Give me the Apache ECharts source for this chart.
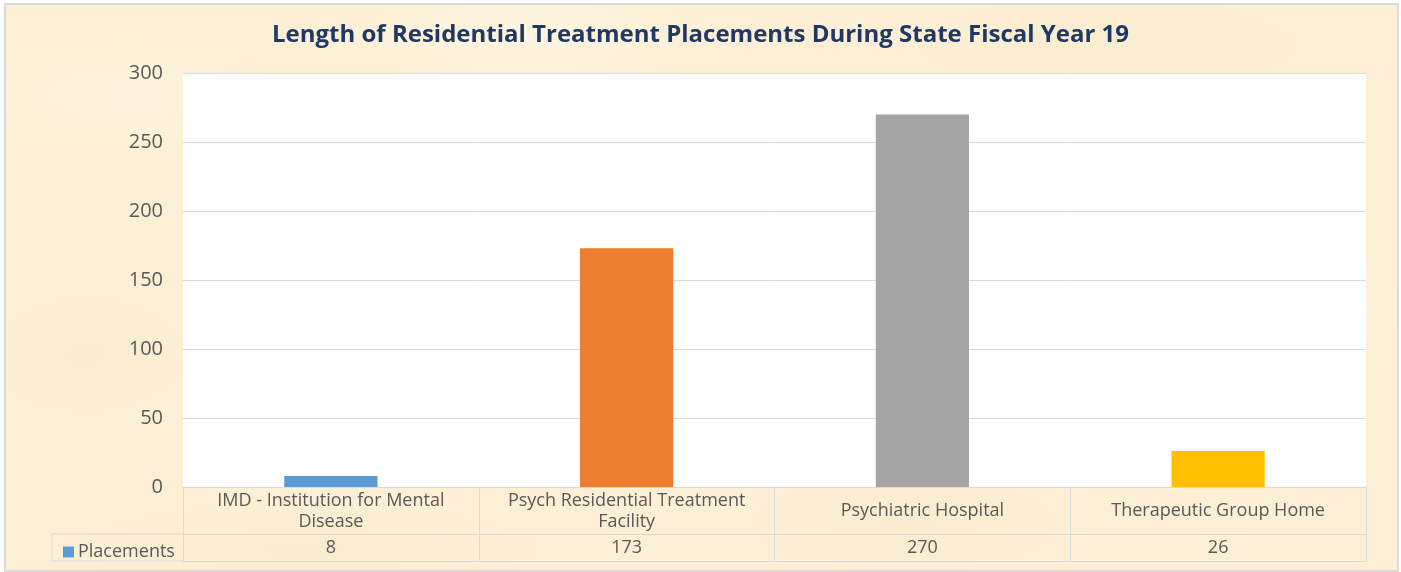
<!DOCTYPE html>
<html>
<head>
<meta charset="utf-8">
<title>Residential Treatment Placements</title>
<script src="https://cdn.jsdelivr.net/npm/echarts@6/dist/echarts.min.js"></script>
<style>
  html, body { margin: 0; padding: 0; background: #ffffff; }
  #frame {
    position: absolute; left: 4px; top: 3px; width: 1391px; height: 565px;
    border: 2px solid #d9d9d9;
    background-color: #fcefd5;
    background-image:
      radial-gradient(ellipse 180px 60px at 120px 90px, rgba(255,250,235,0.5), rgba(255,250,235,0)),
      radial-gradient(ellipse 220px 80px at 520px 30px, rgba(255,248,230,0.6), rgba(255,248,230,0)),
      radial-gradient(ellipse 160px 50px at 900px 520px, rgba(244,228,195,0.35), rgba(244,228,195,0)),
      radial-gradient(ellipse 200px 90px at 1250px 300px, rgba(255,250,235,0.5), rgba(255,250,235,0)),
      radial-gradient(ellipse 100px 60px at 80px 350px, rgba(244,226,190,0.3), rgba(244,226,190,0)),
      radial-gradient(ellipse 240px 50px at 300px 545px, rgba(244,228,195,0.35), rgba(244,228,195,0)),
      radial-gradient(ellipse 200px 50px at 1100px 40px, rgba(244,228,195,0.3), rgba(244,228,195,0));
  }
  #chart { position: absolute; left: 0; top: 0; width: 1401px; height: 572px; }
</style>
</head>
<body>
<div id="frame"></div>
<div id="chart"></div>
<script>
const TITLE = "Length of Residential Treatment Placements During State Fiscal Year 19";
const SERIES_NAME = "Placements";
const categories = [
  "IMD - Institution for Mental\nDisease",
  "Psych Residential Treatment\nFacility",
  "Psychiatric Hospital",
  "Therapeutic Group Home"
];
const placements = [8, 173, 270, 26];
const barColors = ["#5b9bd5", "#ed7d31", "#a5a5a5", "#ffc000"];
const yTicks = { min: 0, max: 300, interval: 50 };

const FONT = "'Open Sans', Lato, sans-serif";
const GRID_LINE = "#d9d9d9";
const TEXT_GRAY = "#595959";

const chart = echarts.init(document.getElementById("chart"));

chart.setOption({
  backgroundColor: "transparent",
  animation: false,
  title: {
    text: TITLE,
    left: "center",
    top: 18,
    textStyle: { color: "#1f3864", fontFamily: FONT, fontWeight: "bold", fontSize: 24 }
  },
  legend: {
    left: 58,
    top: 538,
    icon: "rect",
    itemWidth: 11,
    itemHeight: 11,
    itemGap: 6,
    data: [{ name: SERIES_NAME, itemStyle: { color: barColors[0] } }],
    textStyle: { color: TEXT_GRAY, fontFamily: FONT, fontSize: 18, padding: [0, 0, 0, -1] }
  },
  grid: {
    left: 183,
    right: 35,
    top: 73,
    bottom: 85,
    show: true,
    backgroundColor: "#ffffff",
    borderWidth: 0
  },
  xAxis: [
    {
      type: "category",
      data: categories,
      position: "bottom",
      axisLine: { lineStyle: { color: GRID_LINE } },
      axisTick: { show: true, length: 74, lineStyle: { color: GRID_LINE } },
      axisLabel: {
        color: TEXT_GRAY,
        fontFamily: FONT,
        fontSize: 18,
        lineHeight: 21,
        verticalAlign: "middle",
        margin: 24,
        interval: 0
      }
    },
    {
      type: "category",
      data: placements.map(String),
      position: "bottom",
      offset: 47,
      axisLine: { lineStyle: { color: GRID_LINE } },
      axisTick: { show: false },
      axisLabel: {
        color: TEXT_GRAY,
        fontFamily: FONT,
        fontSize: 18,
        verticalAlign: "middle",
        margin: 14,
        interval: 0
      }
    },
    {
      type: "category",
      data: categories,
      position: "bottom",
      offset: 74,
      axisLine: { lineStyle: { color: GRID_LINE } },
      axisTick: { show: false },
      axisLabel: { show: false }
    }
  ],
  yAxis: {
    type: "value",
    min: yTicks.min,
    max: yTicks.max,
    interval: yTicks.interval,
    axisLine: { show: false },
    axisTick: { show: false },
    axisLabel: { color: TEXT_GRAY, fontFamily: FONT, fontSize: 20, margin: 20 },
    splitLine: { lineStyle: { color: GRID_LINE } }
  },
  graphic: [
    {
      type: "polyline",
      shape: { points: [[183, 534], [52, 534], [52, 561], [183, 561]] },
      style: { stroke: GRID_LINE, fill: null, lineWidth: 1 }
    }
  ],
  series: [
    {
      name: SERIES_NAME,
      type: "bar",
      xAxisIndex: 0,
      data: placements.map((v, i) => ({ value: v, itemStyle: { color: barColors[i] } })),
      itemStyle: { color: barColors[0] },
      barWidth: "31.5%"
    }
  ]
});
</script>
</body>
</html>
